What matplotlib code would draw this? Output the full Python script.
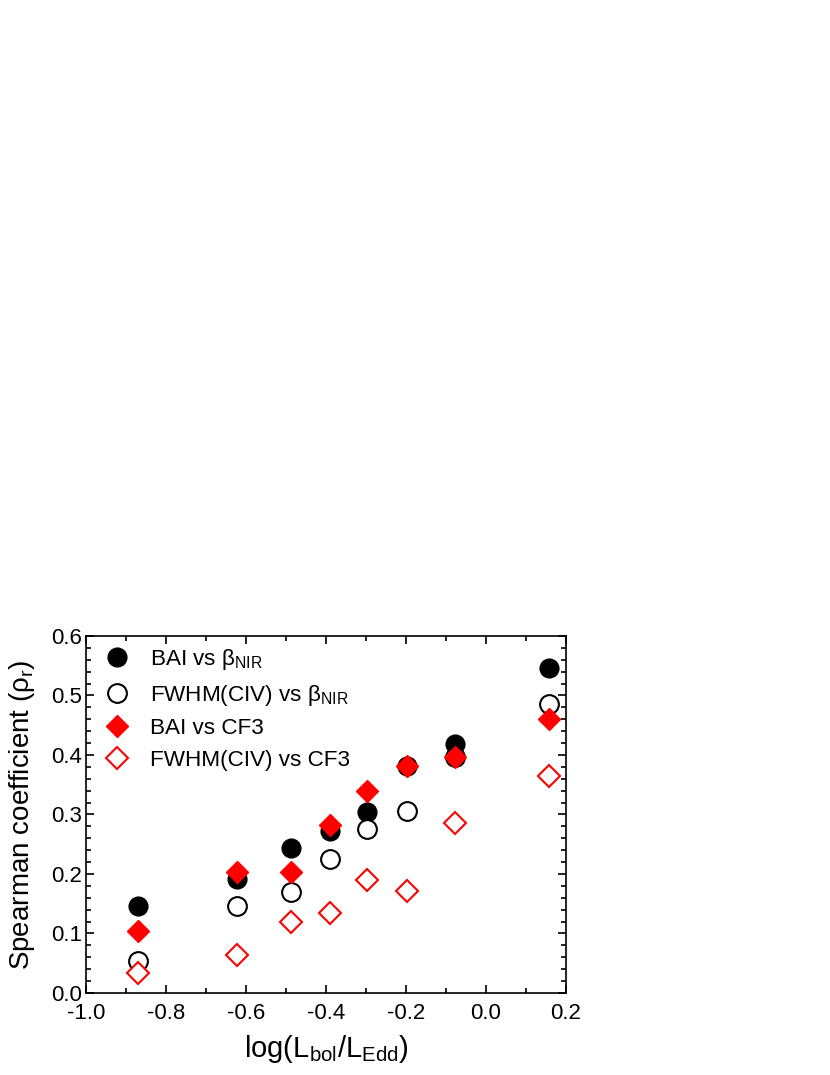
import matplotlib
matplotlib.use("Agg")
import matplotlib.pyplot as plt
from matplotlib.ticker import MultipleLocator, FormatStrFormatter

plt.rcParams['font.family'] = ['Liberation Sans', 'DejaVu Sans']
plt.rcParams['mathtext.fontset'] = 'custom'
plt.rcParams['mathtext.rm'] = 'Liberation Sans'
plt.rcParams['mathtext.it'] = 'Liberation Sans:italic'

# log(Lbol/LEdd) bins
log_edd = [-0.869, -0.622, -0.488, -0.39, -0.297, -0.198, -0.077, 0.157]

bai_beta = [0.147, 0.192, 0.244, 0.273, 0.304, 0.381, 0.419, 0.546]
fwhm_beta = [0.054, 0.147, 0.170, 0.225, 0.276, 0.306, 0.397, 0.485]
bai_cf3 = [0.104, 0.204, 0.204, 0.282, 0.339, 0.381, 0.397, 0.461]
fwhm_cf3 = [0.034, 0.063, 0.120, 0.135, 0.190, 0.172, 0.286, 0.365]

fig = plt.figure(figsize=(8.3, 10.75), dpi=100)
ax = fig.add_axes([0.1036, 0.0763, 0.5783, 0.3321])

ax.plot(log_edd, bai_beta, 'o', ms=13.5, color='black', mec='black',
        label=r'BAI vs β$_{\rm NIR}$')
ax.plot(log_edd, fwhm_beta, 'o', ms=13.5, mfc='white', mec='black', mew=1.5,
        label=r'FWHM(CIV) vs β$_{\rm NIR}$')
ax.plot(log_edd, bai_cf3, 'D', ms=11.5, color='red', mec='red',
        label='BAI vs CF3')
ax.plot(log_edd, fwhm_cf3, 'D', ms=11.5, mfc='white', mec='red', mew=1.5,
        label='FWHM(CIV) vs CF3')

ax.set_xlim(-1.0, 0.2)
ax.set_ylim(0.0, 0.6)
ax.xaxis.set_major_locator(MultipleLocator(0.2))
ax.xaxis.set_minor_locator(MultipleLocator(0.1))
ax.yaxis.set_major_locator(MultipleLocator(0.1))
ax.yaxis.set_minor_locator(MultipleLocator(0.02))
ax.xaxis.set_major_formatter(FormatStrFormatter('%.1f'))
ax.yaxis.set_major_formatter(FormatStrFormatter('%.1f'))
ax.tick_params(which='both', direction='in', top=True, right=True, width=1.2,
               labelsize=16)
ax.tick_params(which='major', length=6)
ax.tick_params(which='minor', length=3.5)
ax.tick_params(axis='x', which='major', pad=7)
ax.tick_params(axis='y', which='major', pad=3)
for s in ax.spines.values():
    s.set_linewidth(1.2)

ax.set_xlabel(r'log(L$_{\rm bol}$/L$_{\rm Edd}$)', fontsize=21, labelpad=7)
ax.set_ylabel(r'Spearman coefficient (ρ$_{\rm r}$)', fontsize=20, labelpad=10)

ax.legend(loc='upper left', frameon=False, fontsize=16.2, handletextpad=0.95,
          labelspacing=0.48, borderaxespad=0.0, handlelength=1.0,
          bbox_to_anchor=(0.023, 0.995))

fig.savefig('out.png', dpi=100)
